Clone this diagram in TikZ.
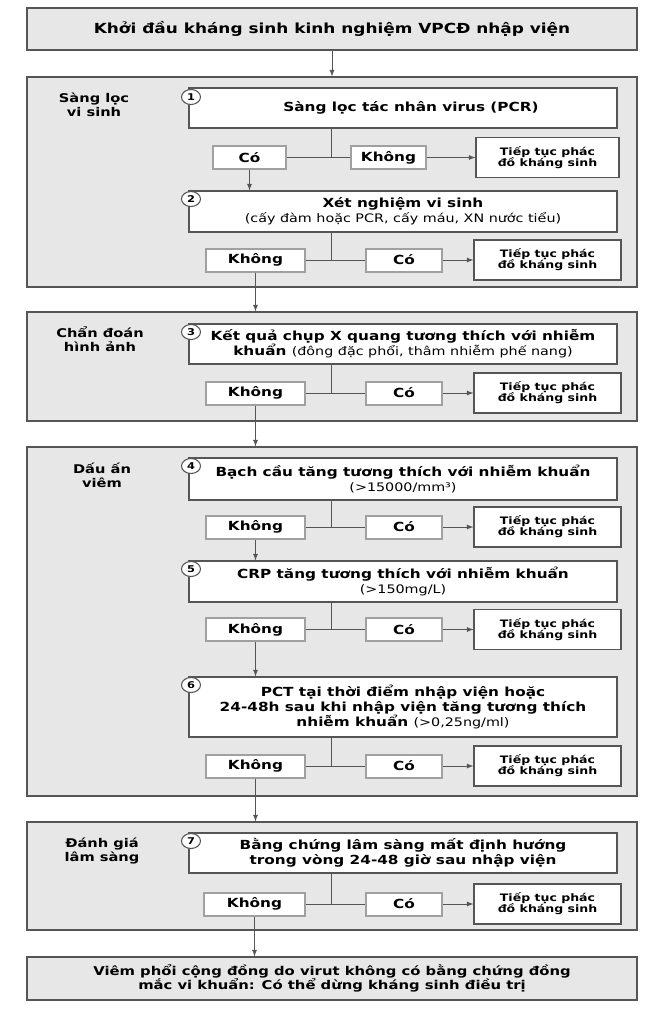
\documentclass[tikz,border=0pt]{standalone}
\usepackage{fontspec}
\setmainfont{DejaVu Sans}[FakeStretch=1.22]
\usetikzlibrary{shapes.geometric, arrows, positioning}
\newcommand{\px}{0.75pt}
\definecolor{stagegray}{RGB}{231,231,231}
\definecolor{edgegray}{RGB}{85,85,85}
\definecolor{answergray}{RGB}{160,160,160}
\tikzstyle{stage} = [rectangle, draw=edgegray, fill=stagegray,
                     minimum width=610*\px, inner sep=0pt,
                     line width=0.9pt, align=center,
                     font=\bfseries\fontsize{10.4}{10.5}\selectfont]
\tikzstyle{stagelabel} = [align=center, inner sep=0pt,
                          font=\bfseries\fontsize{9}{10.5}\selectfont]
\tikzstyle{test} = [rectangle, draw=edgegray, fill=white,
                    minimum width=428*\px, inner sep=0pt,
                    text centered, align=center, line width=0.9pt,
                    font=\bfseries\fontsize{9.4}{11.25}\selectfont]
\tikzstyle{answer} = [rectangle, draw=answergray, fill=white,
                      minimum height=23*\px, inner sep=0pt,
                      line width=1.5pt,
                      font=\bfseries\fontsize{9.4}{10}\selectfont]
\tikzstyle{cont} = [rectangle, draw=edgegray, fill=white,
                    minimum width=147*\px, minimum height=40*\px,
                    inner sep=0pt, align=center, line width=0.9pt,
                    font=\bfseries\fontsize{7.7}{8.4}\selectfont]
\tikzstyle{num} = [ellipse, draw=edgegray, fill=white, line width=0.8pt,
                   minimum width=19*\px, minimum height=15*\px, inner sep=0pt,
                   font=\bfseries\fontsize{7}{7}\selectfont]
\tikzstyle{link} = [draw=edgegray, line width=0.7pt]
\tikzstyle{arrow} = [link, -latex]
\newcommand{\note}[1]{{\mdseries\fontsize{8.8}{11.25}\selectfont #1}}

\begin{document}
\begin{tikzpicture}[x=\px, y=-\px]
        \useasboundingbox (0,0) rectangle (653,1011);

        % stages
        \node (start) [stage, minimum height=42*\px] at (332,29) {Khởi đầu kháng sinh kinh nghiệm VPCĐ nhập viện};
        \node (sec1) [stage, minimum height=210*\px] at (332,182) {};
        \node (sec2) [stage, minimum height=109*\px] at (332,366.5) {};
        \node (sec3) [stage, minimum height=349*\px] at (332,621.5) {};
        \node (sec4) [stage, minimum height=108*\px] at (332,876) {};
        \node (stop) [stage, minimum height=43*\px, font=\bfseries\fontsize{9.1}{10.5}\selectfont] at (332,978.5) {Viêm phổi cộng đồng do virut không có bằng chứng đồng\\mắc vi khuẩn: Có thể dừng kháng sinh điều trị};

        \node (lab1) [stagelabel] at (94,105) {Sàng lọc\\vi sinh};
        \node (lab2) [stagelabel] at (100,339) {Chẩn đoán\\hình ảnh};
        \node (lab3) [stagelabel] at (102,475) {Dấu ấn\\viêm};
        \node (lab4) [stagelabel] at (102,851) {Đánh giá\\lâm sàng};

        % tests
        \node (t1) [test, minimum height=40*\px] at (403,108) {\hspace*{12pt}Sàng lọc tác nhân virus (PCR)};
        \node (t2) [test, minimum height=41*\px] at (403,211.5) {Xét nghiệm vi sinh\\\note{(cấy đàm hoặc PCR, cấy máu, XN nước tiểu)}};
        \node (t3) [test, minimum height=40*\px] at (403,344) {Kết quả chụp X quang tương thích với nhiễm\\khuẩn \note{(đông đặc phổi, thâm nhiễm phế nang)}};
        \node (t4) [test, minimum height=42*\px] at (403,479) {Bạch cầu tăng tương thích với nhiễm khuẩn\\\note{(>15000/mm³)}};
        \node (t5) [test, minimum height=41*\px] at (403,581.5) {CRP tăng tương thích với nhiễm khuẩn\\\note{(>150mg/L)}};
        \node (t6) [test, minimum height=60*\px] at (403,707) {PCT tại thời điểm nhập viện hoặc\\24-48h sau khi nhập viện tăng tương thích\\nhiễm khuẩn \note{(>0,25ng/ml)}};
        \node (t7) [test, minimum height=40*\px] at (403,853) {Bằng chứng lâm sàng mất định hướng\\trong vòng 24-48 giờ sau nhập viện};

        \node (c1) [num] at (191,97) {1};
        \node (c2) [num] at (191,199) {2};
        \node (c3) [num] at (191,332) {3};
        \node (c4) [num] at (191,466) {4};
        \node (c5) [num] at (191,569) {5};
        \node (c6) [num] at (191,685) {6};
        \node (c7) [num] at (191,841) {7};

        % answers
        \node (yes1) [answer, minimum width=73*\px] at (249.5,157.5) {Có};
        \node (no1) [answer, minimum width=75*\px] at (388.5,157.5) {Không};
        \node (go1) [cont, minimum width=143*\px] at (547.5,157.5) {Tiếp tục phác\\đồ kháng sinh};

        \node (no2) [answer, minimum width=99*\px] at (255.5,260) {Không};
        \node (yes2) [answer, minimum width=76*\px] at (404,260) {Có};
        \node (go2) [cont] at (547.5,260) {Tiếp tục phác\\đồ kháng sinh};

        \node (no3) [answer, minimum width=99*\px] at (255.5,393) {Không};
        \node (yes3) [answer, minimum width=76*\px] at (404,393) {Có};
        \node (go3) [cont] at (547.5,393) {Tiếp tục phác\\đồ kháng sinh};

        \node (no4) [answer, minimum width=99*\px] at (255.5,527) {Không};
        \node (yes4) [answer, minimum width=76*\px] at (404,527) {Có};
        \node (go4) [cont] at (547.5,527) {Tiếp tục phác\\đồ kháng sinh};

        \node (no5) [answer, minimum width=99*\px] at (255.5,629.5) {Không};
        \node (yes5) [answer, minimum width=76*\px] at (404,629.5) {Có};
        \node (go5) [cont] at (547.5,629.5) {Tiếp tục phác\\đồ kháng sinh};

        \node (no6) [answer, minimum width=99*\px] at (255.5,766) {Không};
        \node (yes6) [answer, minimum width=76*\px] at (404,766) {Có};
        \node (go6) [cont] at (547.5,766) {Tiếp tục phác\\đồ kháng sinh};

        \node (no7) [answer, minimum width=101*\px] at (254.5,904) {Không};
        \node (yes7) [answer, minimum width=76*\px] at (404,904) {Có};
        \node (go7) [cont] at (547.5,904) {Tiếp tục phác\\đồ kháng sinh};

        % joints below each test
        \coordinate (j1) at (331,157.5);
        \coordinate (j2) at (331,260);
        \coordinate (j3) at (331,393);
        \coordinate (j4) at (331,527);
        \coordinate (j5) at (331,629.5);
        \coordinate (j6) at (331,766);
        \coordinate (j7) at (331,904);

        \draw [arrow] (start) -- (sec1);

        \draw [link] (t1.south -| j1) -- (j1);
        \draw [link] (yes1) -- (no1);
        \draw [arrow] (no1) -- (go1);
        \draw [arrow] (yes1.south) -- (yes1.south |- t2.north);

        \draw [link] (t2.south -| j2) -- (j2);
        \draw [link] (no2) -- (yes2);
        \draw [arrow] (yes2) -- (go2);
        \draw [arrow] (no2.south) -- (no2.south |- sec2.north);

        \draw [link] (t3.south -| j3) -- (j3);
        \draw [link] (no3) -- (yes3);
        \draw [arrow] (yes3) -- (go3);
        \draw [arrow] (no3.south) -- (no3.south |- sec3.north);

        \draw [link] (t4.south -| j4) -- (j4);
        \draw [link] (no4) -- (yes4);
        \draw [arrow] (yes4) -- (go4);
        \draw [arrow] (no4.south) -- (no4.south |- t5.north);

        \draw [link] (t5.south -| j5) -- (j5);
        \draw [link] (no5) -- (yes5);
        \draw [arrow] (yes5) -- (go5);
        \draw [arrow] (no5.south) -- (no5.south |- t6.north);

        \draw [link] (t6.south -| j6) -- (j6);
        \draw [link] (no6) -- (yes6);
        \draw [arrow] (yes6) -- (go6);
        \draw [arrow] (no6.south) -- (no6.south |- sec4.north);

        \draw [link] (t7.south -| j7) -- (j7);
        \draw [link] (no7) -- (yes7);
        \draw [arrow] (yes7) -- (go7);
        \draw [arrow] (no7.south) -- (no7.south |- stop.north);

\end{tikzpicture}
\end{document}
